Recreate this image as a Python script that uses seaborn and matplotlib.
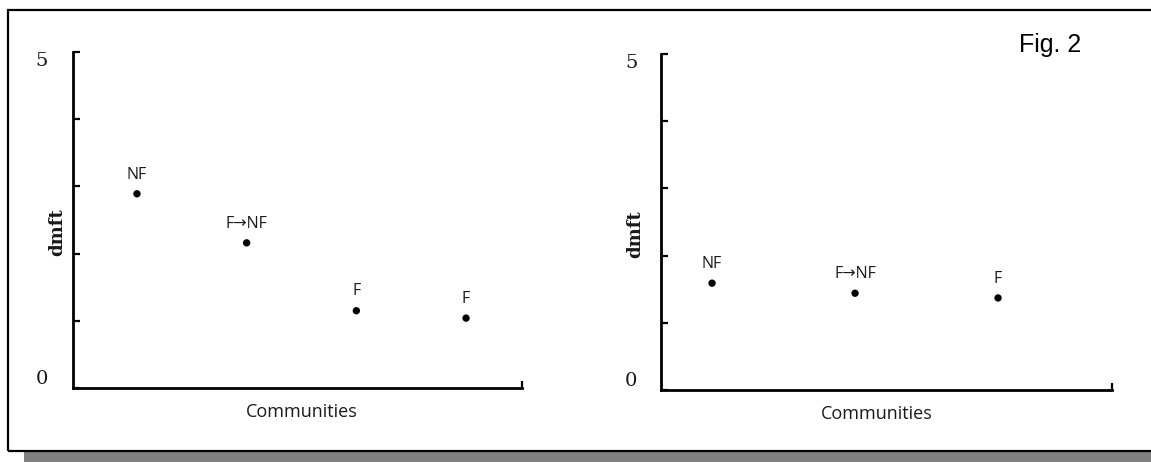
import matplotlib
matplotlib.use("Agg")
import matplotlib.pyplot as plt
from matplotlib.patches import Rectangle
import seaborn as sns

# ---- data ----
left_communities = [1, 2, 3, 4]
left_labels = ["NF", "F\u2192NF", "F", "F"]
left_dmft = [2.89, 2.16, 1.15, 1.04]

right_communities = [1, 2, 3]
right_labels = ["NF", "F\u2192NF", "F"]
right_dmft = [1.59, 1.44, 1.37]

y_ticks = [0, 1, 2, 3, 4, 5]
y_ticklabels = ["0", "", "", "", "", "5"]

sns.set_style("white")
plt.rcParams['font.family'] = ['Open Sans', 'DejaVu Sans']

W, H = 1151, 462
fig = plt.figure(figsize=(W / 100, H / 100), dpi=100)

# frame and grey shadow
fig.add_artist(Rectangle((24 / W, 0), 1 - 24 / W, 10 / H, transform=fig.transFigure,
                         facecolor="#808080", edgecolor="none", zorder=0))
fig.add_artist(Rectangle((8 / W, (H - 451) / H), 1.2, (451 - 10) / H, transform=fig.transFigure,
                         facecolor="none", edgecolor="black", linewidth=1.6, zorder=1))

serif = ['DejaVu Serif']
sans = ['Open Sans', 'DejaVu Sans']


def panel(rect, xs, ys, labels, xlim, xlab_x, ylab_x, tick_pad):
    ax = fig.add_axes(rect)
    ax.set_facecolor("none")
    sns.scatterplot(x=xs, y=ys, ax=ax, color="black", s=28, edgecolor="none", zorder=3)
    for x, y, lab in zip(xs, ys, labels):
        ax.annotate(lab, (x, y), xytext=(0, 11), textcoords="offset points",
                    ha="center", va="baseline", fontsize=11.5, color="#1a1a1a",
                    family=sans)
    ax.set_xlim(*xlim)
    ax.set_ylim(0, 5)
    ax.set_yticks(y_ticks)
    ax.set_yticklabels(y_ticklabels, family=serif, fontsize=14, color="#1a1a1a")
    for t in ax.get_yticklabels():
        if t.get_text() == "0":
            t.set_va("bottom")
        elif t.get_text() == "5":
            t.set_va("top")
    ax.set_xticks([xlim[1]])
    ax.set_xticklabels([""])
    ax.tick_params(axis="both", direction="in", length=5, width=1.6, color="black",
                   pad=tick_pad, left=True, bottom=True)
    for s in ["top", "right"]:
        ax.spines[s].set_visible(False)
    for s in ["left", "bottom"]:
        ax.spines[s].set_linewidth(2.0)
        ax.spines[s].set_color("black")
    ax.set_xlabel("Communities", family=sans, fontsize=13, color="#1a1a1a")
    ax.xaxis.set_label_coords(xlab_x, -0.072)
    ax.xaxis.label.set_va("center")
    ax.set_ylabel("dmft", family=serif, fontsize=13, fontweight="bold", color="#1a1a1a")
    ax.yaxis.set_label_coords(ylab_x, 0.464)
    ax.yaxis.label.set_va("center")
    return ax


ax1 = panel([73 / W, (H - 388) / H, (522 - 73) / W, 336 / H],
            left_communities, left_dmft, left_labels,
            (0.417, 4.51), 0.51, -0.036, 18)
ax2 = panel([661 / W, (H - 390) / H, (1112 - 661) / W, 336 / H],
            right_communities, right_dmft, right_labels,
            (0.643, 3.797), 0.479, -0.058, 17)

fig.text(1019 / W, (H - 52) / H, "Fig. 2", family=['Liberation Sans', 'DejaVu Sans'],
         fontsize=18, ha="left", va="baseline", color="black")

fig.savefig("out.png", dpi=100)
